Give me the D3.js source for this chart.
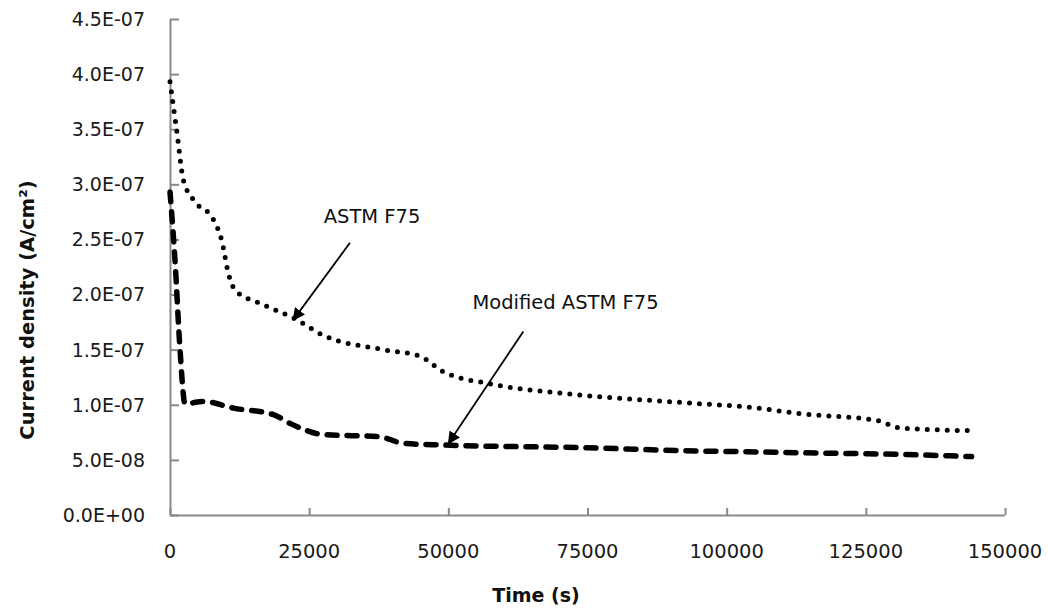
<!DOCTYPE html>
<html><head><meta charset="utf-8">
<script src="https://cdn.jsdelivr.net/npm/d3@7"></script>
<style>body{margin:0;background:#fff}svg{display:block}</style>
</head><body>
<svg id="chart" width="1049" height="612"></svg>
<script>
// ---- data ----
const timeF75 = [0, 1200, 2400, 4200, 7800, 9300, 10500, 11700, 16200, 22450, 27550, 38300, 44900, 49100, 57500, 71300, 86200, 95200, 103600, 113200, 127800, 129600, 131100, 144000];
const currentF75 = [3.93e-7, 3.49e-7, 3.04e-7, 2.86e-7, 2.68e-7, 2.49e-7, 2.19e-7, 2.04e-7, 1.92e-7, 1.78e-7, 1.63e-7, 1.50e-7, 1.44e-7, 1.30e-7, 1.19e-7, 1.10e-7, 1.04e-7, 1.01e-7, 0.98e-7, 0.92e-7, 0.85e-7, 0.81e-7, 0.79e-7, 0.765e-7];
const timeMod = [0, 900, 1800, 2700, 6000, 11400, 18600, 21600, 27500, 37700, 41900, 49100, 75000, 95000, 103600, 113000, 131000, 144000];
const currentMod = [2.93e-7, 2.31e-7, 1.50e-7, 1.01e-7, 1.03e-7, 0.97e-7, 0.91e-7, 0.83e-7, 0.73e-7, 0.71e-7, 0.65e-7, 0.635e-7, 0.61e-7, 0.58e-7, 0.574e-7, 0.565e-7, 0.55e-7, 0.53e-7];
const xTicks = [0, 25000, 50000, 75000, 100000, 125000, 150000];
const yTicks = [0, 0.5e-7, 1.0e-7, 1.5e-7, 2.0e-7, 2.5e-7, 3.0e-7, 3.5e-7, 4.0e-7, 4.5e-7];
const yTickLabels = ["0.0E+00", "5.0E-08", "1.0E-07", "1.5E-07", "2.0E-07", "2.5E-07", "3.0E-07", "3.5E-07", "4.0E-07", "4.5E-07"];
const xTitle = "Time (s)";
const yTitle = "Current density (A/cm²)";
const annoLabels = ["ASTM F75", "Modified ASTM F75"];
const annoText = [[36300, 2.65e-7], [71050, 1.87e-7]];
const annoTail = [[32330, 2.47e-7], [63470, 1.665e-7]];
const annoTip = [[22150, 1.77e-7], [50030, 0.65e-7]];

// ---- layout ----
const svg = d3.select("#chart");
const font = "'DejaVu Sans', sans-serif";
const x = d3.scaleLinear().domain([0, 150000]).range([170, 1005]);
const y = d3.scaleLinear().domain([0, 4.5e-7]).range([515, 19]);
const axisColor = "#898989";

// y axis
const yAxis = d3.axisRight(y).tickValues(yTicks).tickSize(9).tickFormat("");
const gy = svg.append("g").attr("transform", "translate(170,0)").call(yAxis);
gy.select(".domain").attr("d", `M0.5,${y(4.5e-7)}V${y(0)}`);
gy.selectAll("path,line").attr("stroke", axisColor).attr("stroke-width", 2);
svg.append("g").selectAll("text").data(yTicks).join("text")
  .attr("x", 145).attr("y", d => y(d)).attr("dy", "0.36em")
  .attr("text-anchor", "end").attr("font-family", font).attr("font-size", 19).attr("fill", "#1a1a1a")
  .text((d, i) => yTickLabels[i]);

// x axis
const xAxis = d3.axisTop(x).tickValues(xTicks).tickSize(7).tickFormat("");
const gx = svg.append("g").attr("transform", "translate(0,515)").call(xAxis);
gx.select(".domain").attr("d", `M${x(0)},0.5H${x(150000)}`);
gx.selectAll("path,line").attr("stroke", axisColor).attr("stroke-width", 2);
svg.append("g").selectAll("text").data(xTicks).join("text")
  .attr("x", d => x(d)).attr("y", 558)
  .attr("text-anchor", "middle").attr("font-family", font).attr("font-size", 19.5).attr("fill", "#1a1a1a")
  .text(d => String(d));

// titles
svg.append("text").attr("x", 536).attr("y", 602).attr("text-anchor", "middle")
  .attr("font-family", font).attr("font-weight", "bold").attr("font-size", 19).attr("fill", "#111").text(xTitle);
svg.append("text").attr("transform", "translate(34,310) rotate(-90)").attr("text-anchor", "middle")
  .attr("font-family", font).attr("font-weight", "bold").attr("font-size", 19.5).attr("fill", "#111").text(yTitle);

// lines
const line = d3.line().x(d => x(d[0])).y(d => y(d[1])).curve(d3.curveMonotoneX);
svg.append("path").datum(timeF75.map((t, i) => [t, currentF75[i]]))
  .attr("d", line).attr("fill", "none").attr("stroke", "#000").attr("stroke-width", 5)
  .attr("stroke-linecap", "round").attr("stroke-dasharray", "0 10");
svg.append("path").datum(timeMod.map((t, i) => [t, currentMod[i]]))
  .attr("d", line).attr("fill", "none").attr("stroke", "#000").attr("stroke-width", 5.5)
  .attr("stroke-linecap", "round").attr("stroke-dasharray", "10 10");

// annotations
const defs = svg.append("defs");
defs.append("marker").attr("id", "arrow").attr("viewBox", "0 0 10 10").attr("refX", 9).attr("refY", 5)
  .attr("markerWidth", 7).attr("markerHeight", 7).attr("markerUnits", "strokeWidth").attr("orient", "auto")
  .append("path").attr("d", "M0,0L10,5L0,10z").attr("fill", "#000");
annoLabels.forEach((lab, i) => {
  svg.append("line").attr("x1", x(annoTail[i][0])).attr("y1", y(annoTail[i][1]))
    .attr("x2", x(annoTip[i][0])).attr("y2", y(annoTip[i][1]))
    .attr("stroke", "#000").attr("stroke-width", 1.8).attr("marker-end", "url(#arrow)");
  svg.append("text").attr("x", x(annoText[i][0])).attr("y", y(annoText[i][1])).attr("text-anchor", "middle")
    .attr("font-family", font).attr("font-size", 19.5).attr("fill", "#111").text(lab);
});
</script>
</body></html>
